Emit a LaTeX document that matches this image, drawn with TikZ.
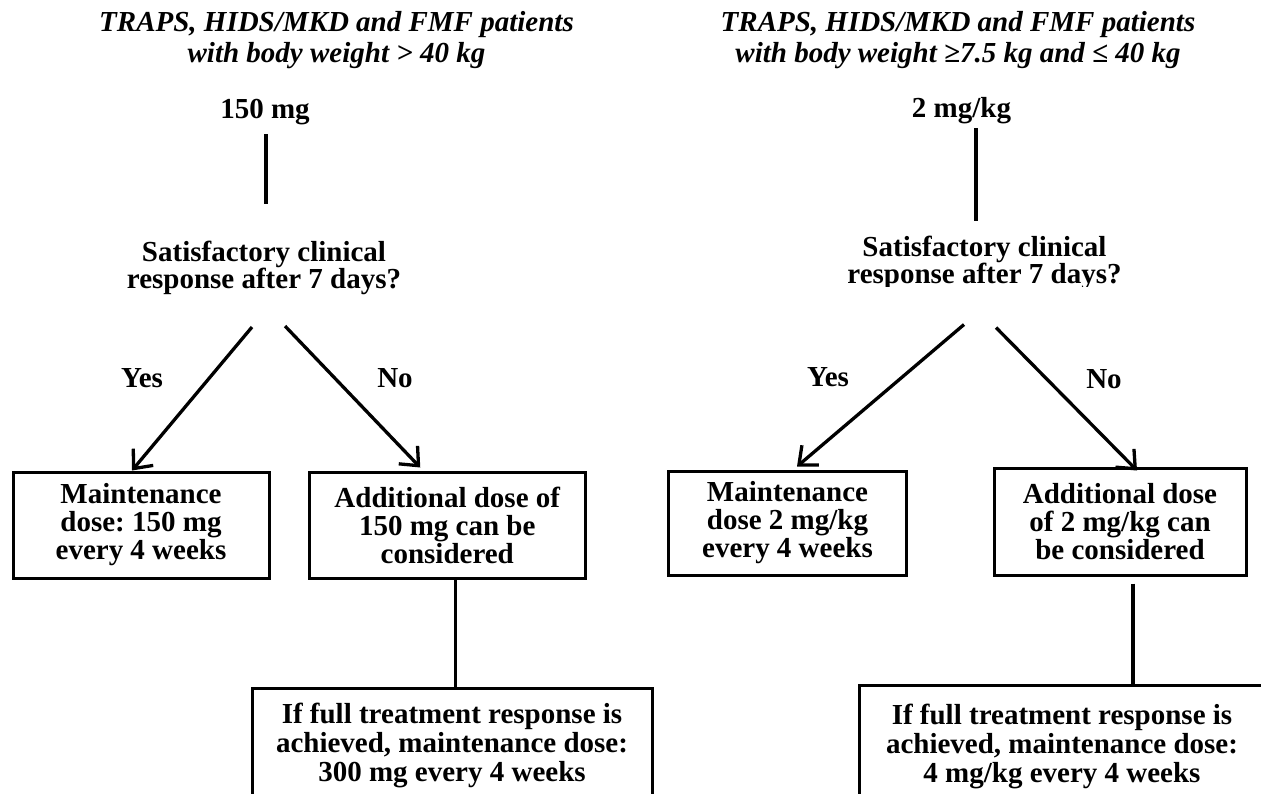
\documentclass[tikz,border=0pt]{standalone}
\usepackage{fontspec}
\setmainfont{Liberation Serif}
\usetikzlibrary{arrows.meta,calc}
\frenchspacing
\tikzset{
  lbl/.style={font=\bfseries\fontsize{29}{27}\selectfont, inner sep=0pt, align=center},
  ttl/.style={font=\bfseries\itshape\fontsize{29}{31}\selectfont, inner sep=0pt, align=center},
  box/.style={draw, line width=3pt, inner sep=0pt, align=center, font=\bfseries\fontsize{29}{28}\selectfont},
  bigbox/.style={box, font=\bfseries\fontsize{29}{29}\selectfont, anchor=north},
  conn/.style={line width=3.3pt},
  arr/.style={conn, -{Straight Barb[length=15pt,width=26pt]}},
}
\begin{document}
\begin{tikzpicture}[x=1pt,y=-1pt]
\useasboundingbox (0,0) rectangle (1261,793);
\clip (0,0) rectangle (1261,793);
% titles
\node[ttl] (t1) at (336.5,40) {TRAPS, HIDS/MKD and FMF patients\\with body weight > 40 kg};
\node[ttl] (t2) at (958,40) {TRAPS, HIDS/MKD and FMF patients\\with body weight ≥7.5 kg and ≤ 40 kg};
% doses
\node[lbl, anchor=base] (d1) at (265,118) {150 mg};
\node[lbl, anchor=base] (d2) at (961.5,117) {2 mg/kg};
% questions
\node[lbl] (q1) at (264,268) {Satisfactory clinical\\response after 7 days?};
\begin{scope}
  \clip (800,200) rectangle (1200,286.5);
  \node[lbl] (q2) at (984.5,263) {Satisfactory clinical\\response after 7 days?};
\end{scope}
% yes / no labels
\node[lbl, anchor=base] (y1) at (142,387) {Yes};
\node[lbl, anchor=base] (n1) at (395,387) {No};
\node[lbl, anchor=base] (y2) at (828,386) {Yes};
\node[lbl, anchor=base] (n2) at (1104,388) {No};
% boxes
\node[box, minimum width=256pt, minimum height=106pt] (b1) at (141,525) {Maintenance\\dose: 150 mg\\every 4 weeks};
\node[box, minimum width=276.5pt, minimum height=106pt] (b2) at (447.25,525) {Additional dose of\\150 mg can be\\considered};
\node[box, minimum width=238pt, minimum height=104pt] (b3) at (787.5,523) {Maintenance\\dose 2 mg/kg\\every 4 weeks};
\node[box, minimum width=252pt, minimum height=107pt] (b4) at (1120,521.5) {Additional dose\\of 2 mg/kg can\\be considered};
\node[bigbox, minimum width=400pt, minimum height=114pt] (b5) at (452,687) {If full treatment response is\\achieved, maintenance dose:\\300 mg every 4 weeks};
\node[bigbox, minimum width=406pt, minimum height=121pt] (b6) at (1062,684) {If full treatment response is\\achieved, maintenance dose:\\4 mg/kg every 4 weeks};
% connectors
\draw[conn] ($(d1.base)+(1,16)$) -- ($(q1.north)+(2,-37)$);
\draw[conn] ($(d2.base)+(14.5,11)$) -- ($(q2.north)+(-8.5,-15)$);
\draw[arr] ($(q1.south)+(-12,32)$) -- ($(b1.north)+(-9,0)$);
\draw[arr] ($(q1.south)+(21,31)$) -- ($(b2.north)+(-27,-3)$);
\draw[arr] ($(q2.south)+(-20.5,34.5)$) -- ($(b3.north)+(9.5,-3)$);
\draw[arr] ($(q2.south)+(11.5,37.5)$) -- ($(b4.north)+(17,4)$);
\coordinate (v1) at ($(b2.south)+(8,0)$);
\draw[conn] (v1) -- (v1 |- b5.north);
\coordinate (v2) at ($(b4.south)+(13,7)$);
\draw[conn] (v2) -- (v2 |- b6.north);
\end{tikzpicture}
\end{document}
